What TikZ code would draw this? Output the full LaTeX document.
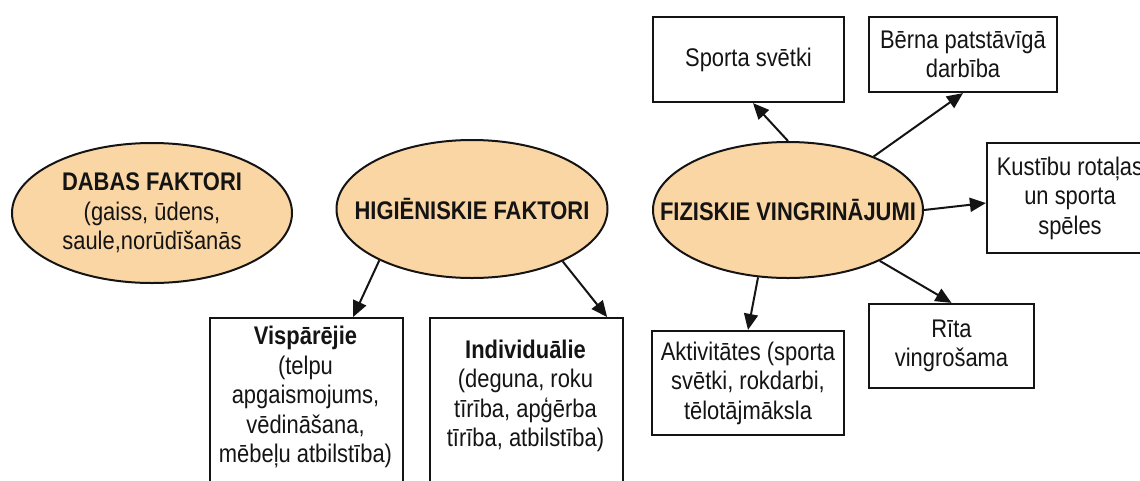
\documentclass[tikz,border=0pt]{standalone}
\usepackage{fontspec}
\setmainfont{Liberation Sans}[FakeStretch=0.86]
\usetikzlibrary{shapes.geometric,arrows.meta}
\definecolor{peach}{RGB}{251,214,165}
\definecolor{ink}{RGB}{20,20,20}
\begin{document}
\begin{tikzpicture}[x=1pt,y=-1pt,
  every node/.style={font=\fontsize{25.5}{29.5}\selectfont, text=ink},
  oval/.style={ellipse, draw=ink, fill=peach, line width=2pt, inner sep=0pt},
  box/.style={rectangle, draw=ink, line width=2.2pt, inner sep=0pt, align=center},
  txt/.style={align=center, inner sep=0pt},
  arr/.style={line width=2pt, draw=ink, -{Triangle[length=16pt,width=14pt]}}]
\useasboundingbox (0,0) rectangle (1140,480);
\clip (0,0) rectangle (1140,480);

% ellipses
\node[oval, minimum width=280pt, minimum height=140pt] (dabas) at (152,213) {};
\node[txt] (dabast) at (dabas) {\textbf{DABAS FAKTORI}\\(gaiss, ūdens,\\saule,norūdīšanās};
\node[oval, minimum width=271pt, minimum height=138pt] (hig) at (472,209) {};
\node[txt] (higt) at (hig) {\textbf{HIGIĒNISKIE FAKTORI}};
\node[oval, minimum width=270pt, minimum height=136pt] (fiz) at (788,210) {};
\node[txt] (fizt) at (fiz) {\textbf{FIZISKIE VINGRINĀJUMI}};

% boxes right
\node[box, minimum width=191pt, minimum height=85pt] (sporta) at (748.5,59.5) {Sporta svētki};
\node[box, minimum width=188pt, minimum height=75pt] (berna) at (963,54.5) {Bērna patstāvīgā\\darbība};
\node[box, minimum width=166pt, minimum height=110pt] (kust) at (1070,198) {Kustību rotaļas\\un sporta\\spēles};
\node[box, minimum width=165pt, minimum height=84pt] (rita) at (951.5,346) {Rīta\\vingrošama};
\node[box, minimum width=192pt, minimum height=104pt] (aktiv) at (748,383) {Aktivitātes (sporta\\svētki, rokdarbi,\\tēlotājmāksla};

% boxes bottom left
\node[box, anchor=north west, minimum width=193pt, minimum height=190pt] (visp) at (209,317) {};
\node[txt] (vispt) at (305.5,397) {\textbf{Vispārējie}\\(telpu\\apgaismojums,\\vēdināšana,\\mēbeļu atbilstība)};
\node[box, anchor=north west, minimum width=193pt, minimum height=190pt] (indiv) at (429,317) {};
\node[txt] (indivt) at (525.5,396) {\textbf{Individuālie}\\(deguna, roku\\tīrība, apģērba\\tīrība, atbilstība)};

% arrows
\draw[arr] (fiz.90) -- ([xshift=4.5pt]sporta.south);
\draw[arr] (fiz.32) -- (berna.south);
\draw[arr] (fiz.east) -- ([yshift=-5pt]kust.west);
\draw[arr] (fiz.-29) -- (rita.north);
\draw[arr] (fiz.246) -- (aktiv.north);
\draw[arr] (hig.209) -- ([xshift=46.5pt]visp.north);
\draw[arr] (hig.330) -- ([xshift=80.5pt]indiv.north);
\end{tikzpicture}
\end{document}
